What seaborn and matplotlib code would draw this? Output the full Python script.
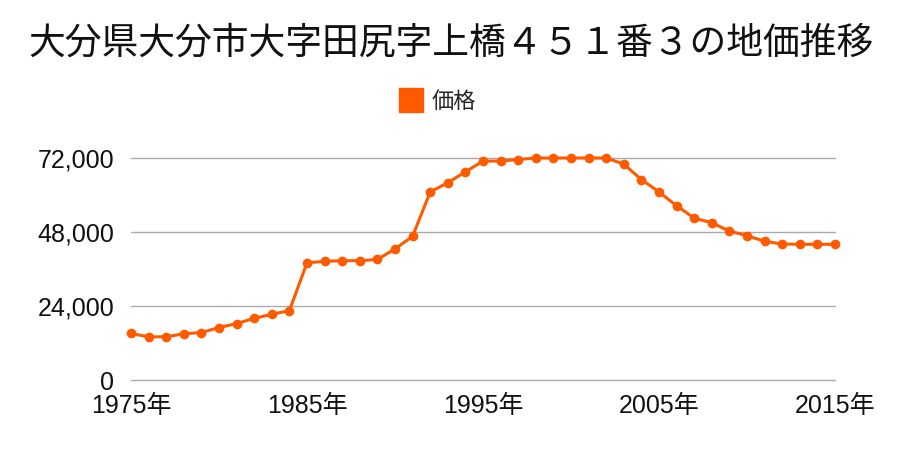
import matplotlib
matplotlib.use("Agg")
import matplotlib.pyplot as plt
import seaborn as sns
import pandas as pd
from matplotlib.ticker import FuncFormatter, FixedLocator
from matplotlib.lines import Line2D

years = list(range(1975, 2016))
prices = [15100, 14000, 14000, 15000, 15400, 17000, 18300, 20000, 21300, 22500,
          38000, 38500, 38700, 38700, 39100, 42500, 46600, 61000, 64000, 67500,
          71000, 71000, 71500, 72000, 72000, 72000, 72000, 72000, 70000, 65000,
          61000, 56500, 52500, 51000, 48300, 46800, 45000, 44100, 44000, 44000,
          44000]
title = "大分県大分市大字田尻字上橋４５１番３の地価推移"
series_name = "価格"
x_ticks = [1975, 1985, 1995, 2005, 2015]
y_ticks = [0, 24000, 48000, 72000]

df = pd.DataFrame({"year": years, "price": prices, "series": series_name})

sns.set_theme(style="white")
plt.rcParams['font.family'] = ['Noto Sans CJK JP', 'DejaVu Sans']

color = "#ff5a00"
fig = plt.figure(figsize=(9, 4.5), dpi=100)
ax = fig.add_axes([131/900, 1-380/450, (835-131)/900, (380-158)/450])

sns.lineplot(data=df, x="year", y="price", ax=ax, color=color, linewidth=2.2,
             marker="o", markersize=7, markeredgewidth=0, legend=False, clip_on=False)

ax.set_xlim(1975, 2015)
ax.set_ylim(0, 72000)
ax.xaxis.set_major_locator(FixedLocator(x_ticks))
ax.yaxis.set_major_locator(FixedLocator(y_ticks))
ax.xaxis.set_major_formatter(FuncFormatter(lambda v, p: f"{int(v)}年"))
ax.yaxis.set_major_formatter(FuncFormatter(lambda v, p: f"{int(v):,}"))
ax.grid(axis="y", color="#aaaaaa", linewidth=1)
for gl in ax.get_ygridlines():
    gl.set_clip_on(False)
ax.set_axisbelow(True)
for s in ax.spines.values():
    s.set_visible(False)
ax.tick_params(axis="both", length=0, labelsize=18, colors="#111111")
ax.tick_params(axis="y", pad=12)
ax.tick_params(axis="x", pad=10)
for lab in ax.get_xticklabels() + ax.get_yticklabels():
    lab.set_family(['Liberation Sans', 'Noto Sans CJK JP'])
ax.set_xlabel("")
ax.set_ylabel("")

fig.suptitle(title, x=451/900, y=1-43/450, va="center", fontsize=26.5, color="#111111")

handle = Line2D([], [], color=color, marker="s", linestyle="none", markersize=17)
fig.legend([handle], [series_name], loc="center", bbox_to_anchor=(438/900, 1-101/450),
           frameon=False, fontsize=16, handletextpad=0.4, handlelength=1.0)

fig.savefig("out.png", dpi=100)
